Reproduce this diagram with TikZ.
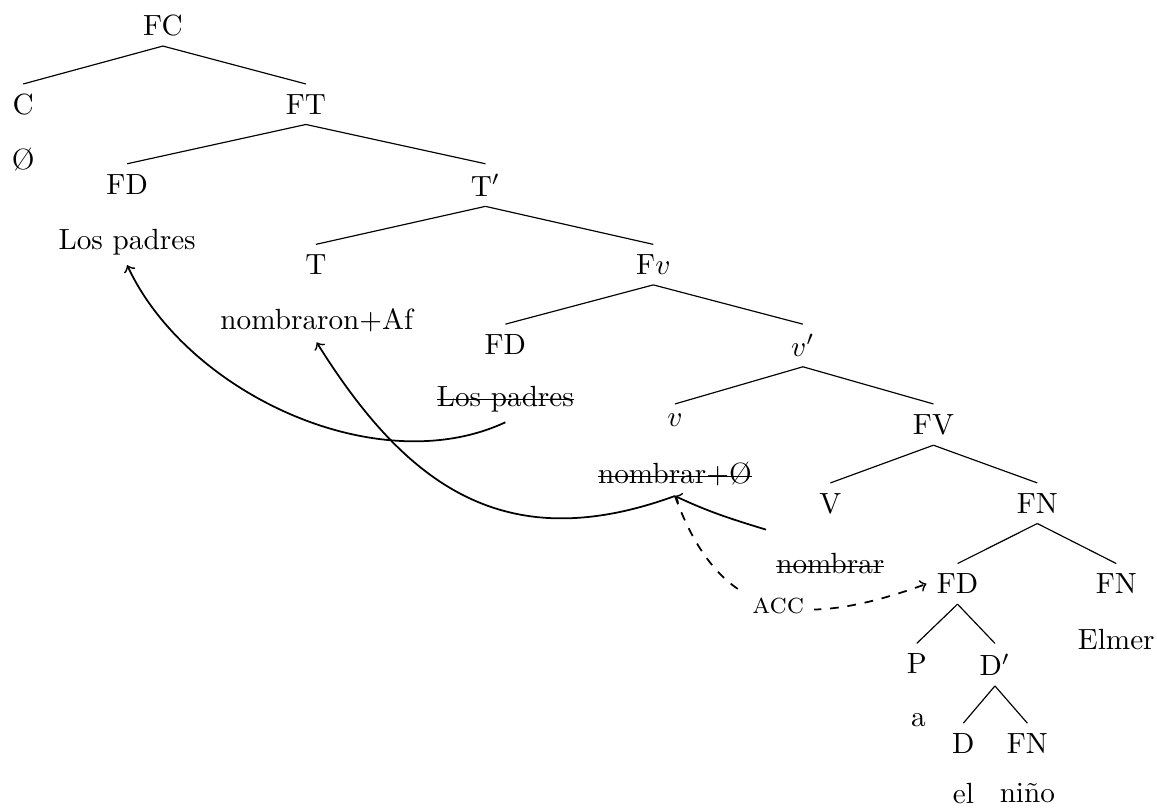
\documentclass[tikz,border=0pt]{standalone}
\newsavebox{\tachbox}
\newcommand{\tachado}[1]{\sbox{\tachbox}{#1}\rlap{\rule[0.5ex]{\wd\tachbox}{0.4pt}}\usebox{\tachbox}}
\tikzset{
    cat/.style   = {anchor=north},
    word/.style  = {anchor=north},
    mov/.style   = {->, semithick},
    caso/.style  = {mov, dashed},
    etiq/.style  = {fill=white, pos=0.54}
}

\begin{document}
\begin{tikzpicture}
    \useasboundingbox (0,0) rectangle (13.92,-9.72);
    % categorias
    \node[cat] (fc)   at (1.96,-0.05) {FC};
    \node[cat] (c)    at (0.28,-1.01) {C};
    \node[cat] (ft)   at (3.68,-1.01) {FT};
    \node[cat] (fd)   at (1.53,-1.97) {FD};
    \node[cat] (tbar) at (5.84,-1.97) {T$'$};
    \node[cat] (t)    at (3.80,-2.94) {T};
    \node[cat] (fv)   at (7.86,-2.94) {F$v$};
    \node[cat] (fdv)  at (6.08,-3.90) {FD};
    \node[cat] (vbar) at (9.66,-3.90) {$v'$};
    \node[cat] (v)    at (8.12,-4.86) {$v$};
    \node[cat] (fvv)  at (11.23,-4.86) {FV};
    \node[cat] (vv)   at (9.99,-5.81) {V};
    \node[cat] (fn)   at (12.48,-5.81) {FN};
    \node[cat] (fdo)  at (11.52,-6.78) {FD};
    \node[cat] (fne)  at (13.43,-6.78) {FN};
    \node[cat] (p)    at (11.03,-7.74) {P};
    \node[cat] (dbar) at (11.97,-7.74) {D$'$};
    \node[cat] (d)    at (11.59,-8.70) {D};
    \node[cat] (fnn)  at (12.36,-8.70) {FN};

    % palabras
    \node[word] (c0)    at (0.28,-1.66)  {\O};
    \node[word] (lp)    at (1.53,-2.63)  {Los padres};
    \node[word] (naf)   at (3.81,-3.59)  {nombraron+Af};
    \node[word] (lpx)   at (6.08,-4.52)  {\tachado{Los padres}};
    \node[word] (nv)    at (8.12,-5.43)  {\tachado{nombrar+\O}};
    \node[word] (nx)    at (9.99,-6.53)  {\tachado{nombrar}};
    \node[word] (elmer) at (13.43,-7.44) {Elmer};
    \node[word] (a)     at (11.05,-8.46) {a};
    \node[word] (el)    at (11.59,-9.30) {el};
    \node[word] (nino)  at (12.36,-9.30) {niño};

    % ramas
    \draw (fc.south) -- (c.north);
    \draw (fc.south) -- (ft.north);
    \draw (ft.south) -- (fd.north);
    \draw (ft.south) -- (tbar.north);
    \draw (tbar.south) -- (t.north);
    \draw (tbar.south) -- (fv.north);
    \draw (fv.south) -- (fdv.north);
    \draw (fv.south) -- (vbar.north);
    \draw (vbar.south) -- (v.north);
    \draw (vbar.south) -- (fvv.north);
    \draw (fvv.south) -- (vv.north);
    \draw (fvv.south) -- (fn.north);
    \draw (fn.south) -- (fdo.north);
    \draw (fn.south) -- (fne.north);
    \draw (fdo.south) -- (p.north);
    \draw (fdo.south) -- (dbar.north);
    \draw (dbar.south) -- (d.north);
    \draw (dbar.south) -- (fnn.north);

    % movimiento
    \draw[mov] (lpx.south) .. controls +(205:1.7) and +(-65:1.7) .. (lp.south);
    \draw[mov] (nv.south) .. controls +(200:2.17) and +(-58:2.05) .. (naf.south);
    \draw[mov] ([yshift=4.5pt]nx.north west) to[out=163, in=-25] (nv.south);
    \draw[caso] (nv.south) .. controls +(-70:1.56) and +(200:1.68)
        .. node[etiq] {\textsc{acc}} (fdo.west);
\end{tikzpicture}
\end{document}
